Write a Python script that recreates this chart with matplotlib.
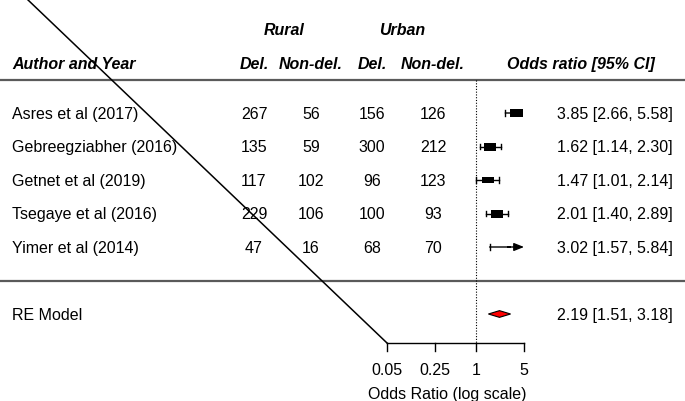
import numpy as np
import matplotlib
matplotlib.use("Agg")
import matplotlib.pyplot as plt
from matplotlib.path import Path
from matplotlib.transforms import blended_transform_factory

# data
studies = ["Asres et al (2017)", "Gebreegziabher (2016)", "Getnet et al (2019)",
           "Tsegaye et al (2016)", "Yimer et al (2014)"]
rural_del = [267, 135, 117, 229, 47]
rural_nondel = [56, 59, 102, 106, 16]
urban_del = [156, 300, 96, 100, 68]
urban_nondel = [126, 212, 123, 93, 70]
odds = [3.85, 1.62, 1.47, 2.01, 3.02]
ci_low = [2.66, 1.14, 1.01, 1.40, 1.57]
ci_high = [5.58, 2.30, 2.14, 2.89, 5.84]
weights = [22.9, 21.6, 20.6, 22.6, 12.3]  # % (estimated)
re_or, re_low, re_high = 2.19, 1.51, 3.18
ticks = [0.05, 0.25, 1, 5]

plt.rcParams['font.family'] = ['Liberation Sans', 'DejaVu Sans']
fs = 11.5

fig = plt.figure(figsize=(6.85, 4.02), dpi=100)
ax = fig.add_axes([0, 0, 1, 1])
ax.set_xscale('log')
ax.set_xlim(10 ** -6.951, 10 ** 3.049)
ax.set_ylim(-3.597, 8.403)
ax.axis('off')
tr = blended_transform_factory(ax.transAxes, ax.transData)

rows = np.arange(len(studies), 0, -1)
alim = (ticks[0], ticks[-1])
axis_y = -1.866

# header
hb = dict(fontsize=fs, fontweight='bold', fontstyle='italic', va='center', transform=tr)
ax.text(284 / 685, 7.48, "Rural", ha='center', **hb)
ax.text(402 / 685, 7.48, "Urban", ha='center', **hb)
ax.text(12 / 685, 6.49, "Author and Year", ha='left', **hb)
ax.text(254 / 685, 6.49, "Del.", ha='center', **hb)
ax.text(311 / 685, 6.49, "Non-del.", ha='center', **hb)
ax.text(372 / 685, 6.49, "Del.", ha='center', **hb)
ax.text(433 / 685, 6.49, "Non-del.", ha='center', **hb)
ax.text(655 / 685, 6.49, "Odds ratio [95% CI]", ha='right', **hb)

# horizontal rules
for yy in (6.0, 0.0):
    ax.plot([0, 1], [yy, yy], transform=tr, color='#5a5a5a', lw=1.6, clip_on=False)

# reference line at 1
ax.plot([1, 1], [6.0, axis_y], color='black', lw=0.8, linestyle=(0, (1, 1.5)))

# study rows
wmin, wmax = min(weights), max(weights)
rect = Path([(-1, -0.62), (1, -0.62), (1, 0.62), (-1, 0.62), (-1, -0.62)],
            [Path.MOVETO, Path.LINETO, Path.LINETO, Path.LINETO, Path.CLOSEPOLY])
tp = dict(fontsize=fs, va='center', transform=tr)
for i, y in enumerate(rows):
    ax.text(12 / 685, y, studies[i], ha='left', **tp)
    ax.text(254 / 685, y, str(rural_del[i]), ha='center', **tp)
    ax.text(311 / 685, y, str(rural_nondel[i]), ha='center', **tp)
    ax.text(372 / 685, y, str(urban_del[i]), ha='center', **tp)
    ax.text(433 / 685, y, str(urban_nondel[i]), ha='center', **tp)
    ax.text(673 / 685, y, f"{odds[i]:.2f} [{ci_low[i]:.2f}, {ci_high[i]:.2f}]", ha='right', **tp)

    lo = max(ci_low[i], alim[0])
    hi = min(ci_high[i], alim[1])
    if ci_high[i] > alim[1]:
        ax.annotate('', xy=(hi, y), xytext=(lo, y),
                    arrowprops=dict(arrowstyle='-|>,head_length=0.5,head_width=0.2',
                                    color='black', lw=1.0, shrinkA=0, shrinkB=0,
                                    mutation_scale=12))
    else:
        ax.plot([lo, hi], [y, y], color='black', lw=1.0)
        ax.plot([hi, hi], [y - 0.08, y + 0.08], color='black', lw=1.0)
    ax.plot([lo, lo], [y - 0.08, y + 0.08], color='black', lw=1.0)
    size_px = 4.5 + (weights[i] - wmin) / (wmax - wmin) * 8.5
    ax.plot([odds[i]], [y], marker=rect, markersize=size_px * 0.72,
            color='black', markeredgewidth=0, linestyle='none', zorder=5)

# RE model
ax.text(12 / 685, -1.0, "RE Model", ha='left', **tp)
ax.fill([re_low, re_or, re_high, re_or], [-1.0, -0.9, -1.0, -1.1],
        facecolor='red', edgecolor='black', lw=0.8)
ax.text(673 / 685, -1.0, f"{re_or:.2f} [{re_low:.2f}, {re_high:.2f}]", ha='right', **tp)

# x axis
ax.plot(alim, [axis_y, axis_y], color='black', lw=1.0)
for t in ticks:
    ax.plot([t, t], [axis_y, axis_y - 0.24], color='black', lw=1.0)
    ax.text(t, -2.67, f"{t:g}", ha='center', va='center', fontsize=fs)
ax.text(np.sqrt(alim[0] * alim[1]) * 0.75, -3.37, "Odds Ratio (log scale)",
        ha='center', va='center', fontsize=fs)

# stray diagonal from the axis start
ax.plot([alim[0], 10 ** -6.557], [axis_y, 8.403], color='black', lw=1.1, clip_on=False)

fig.savefig("out.png", dpi=100)
